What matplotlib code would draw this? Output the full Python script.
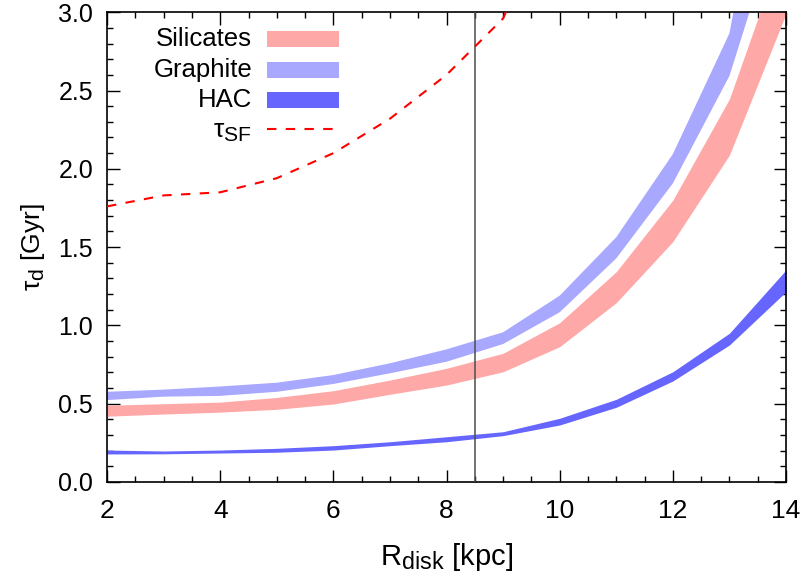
import matplotlib
matplotlib.use("Agg")
import matplotlib.pyplot as plt
import matplotlib._mathtext as mt
from matplotlib.patches import Rectangle
from matplotlib.lines import Line2D
from matplotlib.ticker import MultipleLocator, FormatStrFormatter

plt.rcParams['font.family'] = ['Liberation Sans', 'DejaVu Sans']
plt.rcParams['mathtext.fontset'] = 'custom'
plt.rcParams['mathtext.rm'] = 'Liberation Sans'
mt.SHRINK_FACTOR = 0.8  # gnuplot-like larger subscripts

# disk radius grid (kpc)
r_disk = [2, 3, 4, 5, 6, 7, 8, 9, 10, 11, 12, 13, 14]

# dust lifetime bands (Gyr): lower / upper edges
sil_lo = [0.42, 0.434, 0.446, 0.464, 0.498, 0.56, 0.619, 0.704, 0.864, 1.145, 1.535, 2.088, 2.99]
sil_hi = [0.49, 0.50, 0.51, 0.54, 0.583, 0.651, 0.726, 0.822, 1.017, 1.343, 1.80, 2.446, 3.47]
gra_lo = [0.523, 0.545, 0.55, 0.576, 0.626, 0.694, 0.768, 0.881, 1.084, 1.428, 1.907, 2.593, 3.74]
gra_hi = [0.576, 0.59, 0.61, 0.634, 0.683, 0.758, 0.847, 0.956, 1.19, 1.563, 2.094, 2.865, 4.8]
hac_lo = [0.179, 0.18, 0.185, 0.19, 0.204, 0.232, 0.257, 0.296, 0.364, 0.477, 0.645, 0.875, 1.215]
hac_hi = [0.204, 0.198, 0.204, 0.215, 0.232, 0.257, 0.289, 0.321, 0.407, 0.528, 0.704, 0.95, 1.354]

# star formation timescale
r_sf = [2, 3, 4, 5, 6, 7, 8, 9, 10]
tau_sf = [1.76, 1.83, 1.85, 1.94, 2.10, 2.32, 2.60, 2.96, 3.8]

r_sun = 8.5

c_sil = '#ffa8a8'
c_gra = '#a8a8ff'
c_hac = '#6666ff'

fig = plt.figure(figsize=(8.05, 5.81), dpi=100)
ax = fig.add_axes([0.133, 0.1704, 0.8434, 0.8086])

ax.fill_between(r_disk, sil_lo, sil_hi, color=c_sil, lw=0, zorder=2)
ax.fill_between(r_disk, gra_lo, gra_hi, color=c_gra, lw=0, zorder=2)
ax.fill_between(r_disk, hac_lo, hac_hi, color=c_hac, lw=0, zorder=2)
ax.axvline(r_sun, color='0.3', lw=1.1, zorder=3)
ax.plot(r_sf, tau_sf, color='red', lw=1.5, dashes=(4.5, 4.5), zorder=4)

ax.set_xlim(2, 14)
ax.set_ylim(0, 3)
ax.xaxis.set_major_locator(MultipleLocator(2))
ax.xaxis.set_minor_locator(MultipleLocator(0.5))
ax.yaxis.set_major_locator(MultipleLocator(0.5))
ax.yaxis.set_minor_locator(MultipleLocator(0.1))
ax.yaxis.set_major_formatter(FormatStrFormatter('%.1f'))
ax.tick_params(which='both', direction='in', top=True, right=True, width=1)
ax.tick_params(axis='x', which='major', length=9, pad=12, labelsize=19)
ax.tick_params(axis='y', which='major', length=9, pad=10, labelsize=18)
ax.tick_params(which='minor', length=4.5)
for s in ax.spines.values():
    s.set_linewidth(1.2)

ax.set_xlabel(r'R$_{\mathregular{disk}}$ [kpc]', fontsize=21, labelpad=13)
ax.set_ylabel(r'τ$_{\mathregular{d}}$ [Gyr]', fontsize=19, labelpad=8)

# gnuplot-style key: label right-aligned, sample to its right
names = ['Silicates', 'Graphite', 'HAC']
cols = [c_sil, c_gra, c_hac]
rows = [0.9426, 0.8766, 0.8128]
for name, col, yy in zip(names, cols, rows):
    ax.text(0.2135, yy, name, transform=ax.transAxes, ha='right', va='center', fontsize=18.5)
    ax.add_patch(Rectangle((0.2356, yy - 0.017), 0.106, 0.034, transform=ax.transAxes,
                           color=col, lw=0, zorder=5))
ax.text(0.2135, 0.745, r'τ$_{\mathregular{SF}}$', transform=ax.transAxes, ha='right',
        va='center', fontsize=19)
ax.add_line(Line2D([0.2356, 0.3417], [0.7511, 0.7511], transform=ax.transAxes,
                   color='red', lw=1.5, dashes=(4.5, 4.5), zorder=5))

fig.savefig('out.png', dpi=100)
